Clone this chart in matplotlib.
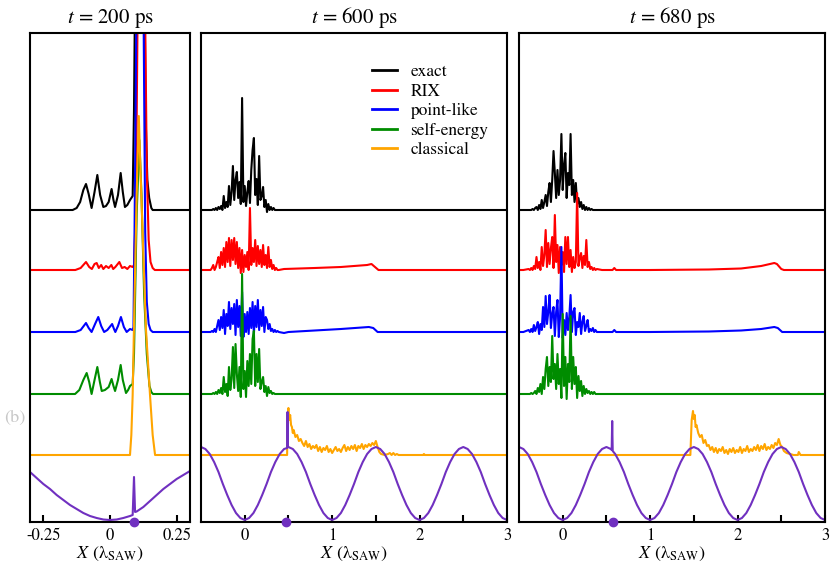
import numpy as np
import matplotlib
matplotlib.use("Agg")
import matplotlib.pyplot as plt

plt.rcParams['font.family'] = ['STIXGeneral', 'DejaVu Serif']
plt.rcParams['mathtext.fontset'] = 'stix'
plt.rcParams['axes.unicode_minus'] = False

# ---------------- data (heights in arbitrary units) ----------------
TITLES = ["$t$ = 200 ps", "$t$ = 600 ps", "$t$ = 680 ps"]
LABELS = ["exact", "RIX", "point-like", "self-energy", "classical"]
COLORS = ["#000000", "#ff0000", "#0000ff", "#008c00", "#ffa500"]
POT_COLOR = "#7030c0"
OFFSETS = [312, 252, 190, 128, 67]          # baseline of each stacked curve
DOT_X = [0.09, 0.47, 0.58]                   # purple marker positions

# ---- panel 1 (t = 200 ps) ----
P1_BLACK_X = [-0.3, -0.14, -0.125, -0.112, -0.1, -0.09, -0.08, -0.069, -0.058, -0.0475, -0.037, -0.025, -0.015,
              -0.005, 0.006, 0.013, 0.019, 0.03, 0.04, 0.048, 0.056, 0.065, 0.075, 0.085, 0.09, 0.1, 0.112, 0.125,
              0.133, 0.14, 0.147, 0.155, 0.16, 0.3]
P1_BLACK_Y = [0, 0, 2, 8, 20, 26, 16, 2, 18, 35, 15, 3, 4,
              8, 21, 10, 3, 15, 37, 18, 3, 5, 10, 14, 100, 400, 500, 400,
              100, 30, 12, 2, 0, 0]
P1_RED_X = [-0.3, -0.13, -0.11, -0.09, -0.078, -0.068, -0.058, -0.05, -0.042, -0.033, -0.025, -0.015, -0.005,
            0.005, 0.012, 0.02, 0.035, 0.045, 0.055, 0.065, 0.075, 0.085, 0.09, 0.097, 0.105, 0.118, 0.13, 0.138,
            0.145, 0.152, 0.16, 0.168, 0.3]
P1_RED_Y = [0, 0, 2, 8, 3, 1, 6, 7, 2, 5, 1, 4, 2,
            5, 1, 3, 8, 2, 3, 1, 4, 3, 5, 60, 300, 500, 300, 100,
            30, 8, 2, 0, 0]
P1_BLUE_X = [-0.3, -0.13, -0.11, -0.09, -0.08, -0.069, -0.056, -0.044, -0.033, -0.022, -0.01, 0.008, 0.015, 0.02,
             0.03, 0.041, 0.052, 0.0625, 0.075, 0.085, 0.088, 0.092, 0.1, 0.112, 0.125, 0.132, 0.138, 0.145,
             0.152, 0.16, 0.3]
P1_BLUE_Y = [0, 0, 2, 9, 4, 0, 8, 15, 6, 0, 2, 8, 3, 0,
             6, 15, 5, 0, 3, 2, 5, 100, 350, 500, 350, 100, 30, 8,
             2, 0, 0]
P1_GREEN_X = [-0.3, -0.131, -0.115, -0.1, -0.0875, -0.078, -0.069, -0.058, -0.0475, -0.038, -0.031, -0.019, -0.005,
              0.006, 0.013, 0.019, 0.03, 0.04, 0.048, 0.06, 0.068, 0.075, 0.085, 0.09, 0.1, 0.11, 0.118, 0.128,
              0.138, 0.148, 0.155, 0.161, 0.3]
P1_GREEN_Y = [0, 0, 4, 14, 21, 12, 0, 14, 27, 12, 3, 4, 7,
              15, 8, 3, 14, 29, 14, 1, 4, 8, 10, 40, 180, 254, 200, 100,
              40, 8, 2, 0, 0]
P1_ORANGE_X = [-0.3, 0.075, 0.08, 0.085, 0.09, 0.1, 0.108, 0.115, 0.125, 0.135, 0.15, 0.16, 0.169, 0.3]
P1_ORANGE_Y = [0, 0, 20, 60, 130, 260, 339, 280, 200, 125, 60, 20, 0, 0]
P1_POT_X = [-0.3, -0.275, -0.25, -0.225, -0.2, -0.175, -0.15, -0.125, -0.1, -0.075, -0.05, -0.025, 0.0,
            0.025, 0.05, 0.075, 0.085, 0.09, 0.094, 0.1, 0.125, 0.15, 0.175, 0.2, 0.225, 0.25, 0.275, 0.3]
P1_POT_Y = [50, 44, 38, 33, 27, 22, 17, 13, 9, 6, 4, 2.5, 2,
            2.5, 4, 6, 7, 45, 10, 10.5, 15, 21, 27, 33, 38, 43, 47, 51]

# ---- panels 2 and 3: wave-packet samples on a common grid ----
PACKET_X = np.round(np.linspace(-0.39, 0.39, 53), 3)

P2_BLACK = [0, 0, 1, 0, 2, 0, 3, 1, 4, 0, 14, 2, 8, 3, 24, 5, 18, 44, 10, 30, 38, 12, 28, 6, 112, 8, 24,
            4, 18, 29, 7, 40, 60, 72, 15, 31, 5, 54, 10, 14, 23, 3, 10, -2, 6, 0, 3, 0, 2, 0, 0, 0, 0]
P2_RED = [0, 2, 5, 0, 3, 8, 13, 2, 18, 5, 22, 3, 28, 8, 32, 4, 30, 10, 32, 6, 28, 2, 22, -3, 20, -2, 15,
          3, 18, 0, 62, 5, 22, 8, 30, 4, 24, 6, 20, 3, 25, 5, 15, 2, 23, 3, 10, 1, 5, 0, 2, 0, 0]
P2_BLUE = [0, 1, 0, 3, 0, 6, 12, 2, 15, 4, 22, -2, 18, 6, 30, 3, 24, 8, 28, -3, 32, 5, 26, -4, 40, -5, 18,
           0, 20, -2, 24, 4, 30, -3, 26, 5, 32, 2, 22, 6, 25, 0, 15, 12, 3, 8, 1, 3, 0, 2, 0, 1, 0]
P2_GREEN = [0, 0, 1, 0, 2, 0, 4, 1, 6, 0, 17, 2, 10, -2, 27, 4, 15, 47, 6, 50, 20, 3, 27, -3, 120, 5, 23,
            -3, 33, 8, 40, 10, 55, 63, 8, 40, 12, 45, 5, 12, 17, 2, 8, -2, 7, 1, 3, 0, 1, 0, 0, 0, 0]
P3_BLACK = [0, 0, 0, 1, 0, 2, 3, 0, 5, 1, 10, 2, 8, 15, 4, 18, 27, 8, 30, 59, 37, 12, 40, 15, 30, 76, 20,
            45, 57, 12, 37, 25, 76, 15, 30, 8, 27, 6, 12, 3, 8, 1, 5, 0, 3, 0, 2, 0, 1, 0, 0, 0, 0]
P3_RED = [1, 0, 2, 0, 4, 1, 13, 2, 8, 0, 23, 4, 15, 40, 3, 27, 6, 22, 33, 2, 55, 8, 25, -3, 23, 5, 18,
          -2, 33, 6, 33, 3, 20, -2, 13, 2, 8, 77, 4, 12, 17, 2, 14, 5, 30, 3, 8, 1, 3, 0, 2, 0, 1]
P3_BLUE = [2, 0, 3, 0, 7, 1, 5, 10, -2, 8, 2, 25, 5, 36, 8, 20, 37, 4, 18, 25, -4, 20, 32, -5, 15, 85, -6,
           12, -3, 19, 2, 15, 37, 0, 20, 24, -3, 10, 5, 19, -2, 10, 16, 1, 6, 12, 0, 3, 1, 4, 0, 2, 0]
P3_GREEN = [0, 0, 1, 0, 1, 3, 0, 6, 2, 10, 0, 17, 5, 25, 37, 8, 27, 12, 58, 15, 30, 5, 40, 10, 25, -4, 80,
            8, 37, -5, 30, 12, 78, 5, 37, 10, 27, -4, 18, 3, 13, -2, 8, 0, 5, 1, 3, 0, 2, 0, 2, 0, 0]

# tails to the right of the packets
FLAT_TAIL_X = [0.45, 3.0]
FLAT_TAIL_Y = [0, 0]
P2_RED_TAIL_X = [0.45, 0.8, 1.1, 1.4, 1.45, 1.49, 1.53, 3.0]
P2_RED_TAIL_Y = [1, 2, 3, 5, 6, 3, 0, 0]
P2_BLUE_TAIL_X = [0.45, 0.5, 0.8, 1.1, 1.42, 1.47, 1.52, 3.0]
P2_BLUE_TAIL_Y = [-1, 0, 1.5, 3, 5, 4, 0, 0]
P3_RED_TAIL_X = [0.45, 0.57, 0.59, 0.61, 1.0, 1.67, 2.04, 2.27, 2.42, 2.45, 2.5, 2.53, 3.0]
P3_RED_TAIL_Y = [0, 0, 2, 0, 0, 0.5, 1.5, 4, 7, 6, 1, 0, 0]
P3_BLUE_TAIL_X = [0.45, 0.57, 0.59, 0.61, 1.0, 1.67, 2.04, 2.27, 2.42, 2.46, 2.51, 3.0]
P3_BLUE_TAIL_Y = [0, 0, 2, 0, 0, 0.5, 1.5, 3, 5, 4, 0, 0]

P2_ORANGE_X = [-0.5, 0.485, 0.49, 0.5, 0.51, 0.52, 0.53, 0.54, 0.55, 0.56, 0.58, 0.6, 0.62, 0.64, 0.66, 0.68, 0.7,
               0.72, 0.74, 0.76, 0.78, 0.8, 0.82, 0.84, 0.86, 0.88, 0.9, 0.92, 0.94, 0.96, 0.98, 1.0, 1.02, 1.04,
               1.06, 1.08, 1.1, 1.12, 1.14, 1.16, 1.18, 1.2, 1.22, 1.24, 1.26, 1.28, 1.3, 1.32, 1.34, 1.36, 1.38,
               1.4, 1.42, 1.44, 1.46, 1.48, 1.5, 1.52, 1.54, 1.56, 1.6, 1.64, 1.66, 1.68, 1.7, 1.72, 1.74, 1.76,
               2.04, 2.05, 2.06, 3.0]
P2_ORANGE_Y = [0, 0, 40, 47, 35, 40, 30, 28, 22, 25, 18, 20, 14, 16, 12, 9, 14,
               8, 11, 6, 9, 7, 10, 4, 8, 3, 7, 5, 9, 3, 6, 2, 5, 8,
               4, 6, 3, 7, 10, 4, 8, 5, 9, 6, 10, 4, 9, 7, 11, 6, 10,
               8, 11, 9, 12, 10, 14, 8, 3, 1, 0, 1, 2, 0, 2, 0, 1, 0,
               0, 1, 0, 0]
P3_ORANGE_X = [-0.5, 1.46, 1.475, 1.49, 1.5, 1.51, 1.52, 1.53, 1.55, 1.57, 1.59, 1.61, 1.63, 1.65, 1.67, 1.69, 1.71,
               1.73, 1.75, 1.77, 1.79, 1.81, 1.83, 1.85, 1.87, 1.89, 1.91, 1.93, 1.95, 1.97, 1.99, 2.01, 2.03,
               2.05, 2.07, 2.09, 2.11, 2.13, 2.15, 2.17, 2.19, 2.21, 2.23, 2.25, 2.27, 2.29, 2.31, 2.33, 2.35,
               2.37, 2.39, 2.41, 2.43, 2.45, 2.47, 2.49, 2.51, 2.53, 2.56, 2.6, 2.64, 2.69, 2.7, 2.72, 3.0]
P3_ORANGE_Y = [0, 0, 35, 44, 36, 40, 28, 30, 22, 18, 20, 12, 15, 9, 10, 5, 8,
               3, 7, 2, 6, 4, 8, 2, 5, 1, 6, 3, 7, 2, 5, 3, 8,
               2, 6, 4, 9, 3, 6, 4, 8, 5, 10, 4, 9, 6, 11, 5, 8,
               6, 10, 7, 12, 10, 16, 10, 8, 4, 2, 1, 0, 0, 3, 0, 0]

# SAW potential samples for panels 2/3 (x = -0.5 ... 3.0 every 0.05)
POT_X = np.round(np.linspace(-0.5, 3.0, 71), 3)
POT_Y = [75, 73, 68, 60, 50, 38, 27, 17, 9, 4,
         2, 4, 9, 17, 27, 38, 50, 60, 68, 73, 75, 73, 68, 60, 50, 38, 27, 17, 9, 4,
         2, 4, 9, 17, 27, 38, 50, 60, 68, 73, 75, 73, 68, 60, 50, 38, 27, 17, 9, 4,
         2, 4, 9, 17, 27, 38, 50, 60, 68, 73, 75, 73, 68, 60, 50, 38, 27, 17, 9, 4, 2]
P2_SPIKE_X = [0.485, 0.49, 0.495]
P2_SPIKE_Y = [74, 110, 75]
P3_SPIKE_X = [0.56, 0.566, 0.572]
P3_SPIKE_Y = [72, 101, 71]


def packet(vals, tail_x, tail_y):
    x = np.concatenate([[-0.5, -0.45], PACKET_X, tail_x])
    y = np.concatenate([[0, 0], vals, tail_y])
    return x, y


def with_spike(px, py, sx, sy):
    x = np.concatenate([px, sx])
    y = np.concatenate([py, sy])
    o = np.argsort(x, kind="stable")
    return x[o], y[o]


panels = [
    dict(curves=[(P1_BLACK_X, P1_BLACK_Y), (P1_RED_X, P1_RED_Y), (P1_BLUE_X, P1_BLUE_Y),
                 (P1_GREEN_X, P1_GREEN_Y), (P1_ORANGE_X, P1_ORANGE_Y)],
         pot=(np.array(P1_POT_X), np.array(P1_POT_Y)), xlim=(-0.3, 0.3),
         ticks=[-0.25, 0, 0.25], ticklabels=["-0.25", "0", "0.25"], minor=[]),
    dict(curves=[packet(P2_BLACK, FLAT_TAIL_X, FLAT_TAIL_Y), packet(P2_RED, P2_RED_TAIL_X, P2_RED_TAIL_Y),
                 packet(P2_BLUE, P2_BLUE_TAIL_X, P2_BLUE_TAIL_Y), packet(P2_GREEN, FLAT_TAIL_X, FLAT_TAIL_Y),
                 (P2_ORANGE_X, P2_ORANGE_Y)],
         pot=with_spike(POT_X, POT_Y, P2_SPIKE_X, P2_SPIKE_Y), xlim=(-0.5, 3.0),
         ticks=[0, 1, 2, 3], ticklabels=["0", "1", "2", "3"], minor=[0.5, 1.5, 2.5]),
    dict(curves=[packet(P3_BLACK, FLAT_TAIL_X, FLAT_TAIL_Y), packet(P3_RED, P3_RED_TAIL_X, P3_RED_TAIL_Y),
                 packet(P3_BLUE, P3_BLUE_TAIL_X, P3_BLUE_TAIL_Y), packet(P3_GREEN, FLAT_TAIL_X, FLAT_TAIL_Y),
                 (P3_ORANGE_X, P3_ORANGE_Y)],
         pot=with_spike(POT_X, POT_Y, P3_SPIKE_X, P3_SPIKE_Y), xlim=(-0.5, 3.0),
         ticks=[0, 1, 2, 3], ticklabels=["0", "1", "2", "3"], minor=[0.5, 1.5, 2.5]),
]

fig = plt.figure(figsize=(8.3, 5.7), dpi=100)
W, H = 830.0, 570.0
boxes = [(30, 190), (201, 507), (519, 825)]
top, bottom = 33, 522

for i, (p, (l, r)) in enumerate(zip(panels, boxes)):
    ax = fig.add_axes([l / W, (H - bottom) / H, (r - l) / W, (bottom - top) / H])
    for (cx, cy), off, col, lab in zip(p["curves"], OFFSETS, COLORS, LABELS):
        ax.plot(cx, np.asarray(cy, float) + off, color=col, lw=1.5, label=lab)
    ax.plot(p["pot"][0], p["pot"][1], color=POT_COLOR, lw=1.5)
    ax.plot([DOT_X[i]], [0], "o", color=POT_COLOR, ms=6, clip_on=False, zorder=10)
    ax.set_xlim(*p["xlim"])
    ax.set_ylim(0, bottom - top)
    ax.set_yticks([])
    ax.set_xticks(p["ticks"])
    ax.set_xticklabels(p["ticklabels"], fontsize=12)
    ax.set_xticks(p["minor"], minor=True)
    ax.tick_params(axis="x", which="both", direction="in", length=5, width=1.5, pad=4)
    for s in ax.spines.values():
        s.set_linewidth(1.5)
    ax.set_title(TITLES[i], fontsize=15, pad=7)
    ax.set_xlabel("$X$ (λ$_{\\mathrm{SAW}}$)", fontsize=13, labelpad=1)
    if i == 1:
        leg = ax.legend(loc="upper left", bbox_to_anchor=(0.56, 0.937), frameon=False, fontsize=12.5,
                        handlelength=1.4, handletextpad=0.8, labelspacing=0.2, borderpad=0,
                        borderaxespad=0)
        for h in leg.get_lines():
            h.set_linewidth(2)

fig.text(15 / W, 1 - 418 / H, "(b)", color="#c8c8c8", fontsize=13, ha="center", va="center")

fig.savefig("out.png", dpi=100)
